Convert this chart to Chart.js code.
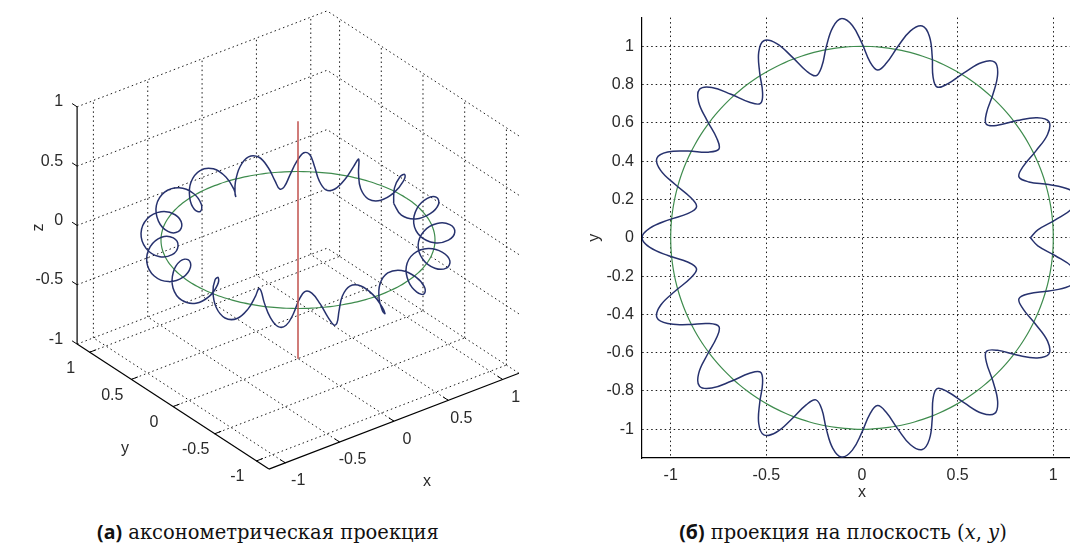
<!DOCTYPE html>
<html>
<head>
<meta charset="utf-8">
<script src="https://cdn.jsdelivr.net/npm/chart.js@4.4.0/dist/chart.umd.min.js"></script>
<style>
  html, body { margin: 0; padding: 0; background: #fff; overflow: hidden; }
  #wrap { position: relative; width: 1070px; height: 546px; overflow: hidden; }
  #axo { position: absolute; left: 0; top: 0; }
  #plane { position: absolute; left: 580px; top: 0; }
  .cap { position: absolute; top: 521px; transform: translateX(-50%); white-space: nowrap;
         font-family: 'DejaVu Serif', 'Liberation Serif', serif; font-size: 19.5px; line-height: 22px; color: #111; }
  .cap b { font-family: 'Open Sans', 'Noto Sans', sans-serif; font-weight: 700; }
</style>
</head>
<body>
<div id="wrap">
  <canvas id="axo" width="560" height="505"></canvas>
  <canvas id="plane" width="520" height="510"></canvas>
  <div class="cap" style="left:268px"><b>(а)</b> аксонометрическая проекция</div>
  <div class="cap" style="left:843px"><b>(б)</b> проекция на плоскость (<i>x</i>, <i>y</i>)</div>
</div>
<script>
// ---------- данные ----------
// угол вдоль кольца (град), через 1/8 витка
const ringAngle = [
  0, 2.6, 5.3, 7.9, 10.6, 13.2, 15.9, 18.5, 21.2, 23.8, 26.5, 29.1, 31.8, 34.4, 37.1, 39.7, 42.4,
  45, 47.6, 50.3, 52.9, 55.6, 58.2, 60.9, 63.5, 66.2, 68.8, 71.5, 74.1, 76.8, 79.4, 82.1, 84.7, 87.4,
  90, 92.6, 95.3, 97.9, 100.6, 103.2, 105.9, 108.5, 111.2, 113.8, 116.5, 119.1, 121.8, 124.4, 127.1, 129.7, 132.4,
  135, 137.6, 140.3, 142.9, 145.6, 148.2, 150.9, 153.5, 156.2, 158.8, 161.5, 164.1, 166.8, 169.4, 172.1, 174.7, 177.4,
  180, 182.6, 185.3, 187.9, 190.6, 193.2, 195.9, 198.5, 201.2, 203.8, 206.5, 209.1, 211.8, 214.4, 217.1, 219.7, 222.4,
  225, 227.6, 230.3, 232.9, 235.6, 238.2, 240.9, 243.5, 246.2, 248.8, 251.5, 254.1, 256.8, 259.4, 262.1, 264.7, 267.4,
  270, 272.6, 275.3, 277.9, 280.6, 283.2, 285.9, 288.5, 291.2, 293.8, 296.5, 299.1, 301.8, 304.4, 307.1, 309.7, 312.4,
  315, 317.6, 320.3, 322.9, 325.6, 328.2, 330.9, 333.5, 336.2, 338.8, 341.5, 344.1, 346.8, 349.4, 352.1, 354.7, 357.4,
  360
];
// расстояние синей кривой от оси z
const helixRadius = [
  0.88, 0.92, 1.015, 1.11, 1.15, 1.11, 1.015, 0.92,
  0.88, 0.92, 1.015, 1.11, 1.15, 1.11, 1.015, 0.92,
  0.88, 0.92, 1.015, 1.11, 1.15, 1.11, 1.015, 0.92,
  0.88, 0.92, 1.015, 1.11, 1.15, 1.11, 1.015, 0.92,
  0.88, 0.92, 1.015, 1.11, 1.15, 1.11, 1.015, 0.92,
  0.88, 0.92, 1.015, 1.11, 1.15, 1.11, 1.015, 0.92,
  0.88, 0.92, 1.015, 1.11, 1.15, 1.11, 1.015, 0.92,
  0.88, 0.92, 1.015, 1.11, 1.15, 1.11, 1.015, 0.92,
  0.88, 0.92, 1.015, 1.11, 1.15, 1.11, 1.015, 0.92,
  0.88, 0.92, 1.015, 1.11, 1.15, 1.11, 1.015, 0.92,
  0.88, 0.92, 1.015, 1.11, 1.15, 1.11, 1.015, 0.92,
  0.88, 0.92, 1.015, 1.11, 1.15, 1.11, 1.015, 0.92,
  0.88, 0.92, 1.015, 1.11, 1.15, 1.11, 1.015, 0.92,
  0.88, 0.92, 1.015, 1.11, 1.15, 1.11, 1.015, 0.92,
  0.88, 0.92, 1.015, 1.11, 1.15, 1.11, 1.015, 0.92,
  0.88, 0.92, 1.015, 1.11, 1.15, 1.11, 1.015, 0.92,
  0.88, 0.92, 1.015, 1.11, 1.15, 1.11, 1.015, 0.92,
  0.88
];
// высота z синей кривой
const helixHeight = [
  0, 0.095, 0.135, 0.095, 0, -0.095, -0.135, -0.095,
  0, 0.095, 0.135, 0.095, 0, -0.095, -0.135, -0.095,
  0, 0.095, 0.135, 0.095, 0, -0.095, -0.135, -0.095,
  0, 0.095, 0.135, 0.095, 0, -0.095, -0.135, -0.095,
  0, 0.095, 0.135, 0.095, 0, -0.095, -0.135, -0.095,
  0, 0.095, 0.135, 0.095, 0, -0.095, -0.135, -0.095,
  0, 0.095, 0.135, 0.095, 0, -0.095, -0.135, -0.095,
  0, 0.095, 0.135, 0.095, 0, -0.095, -0.135, -0.095,
  0, 0.095, 0.135, 0.095, 0, -0.095, -0.135, -0.095,
  0, 0.095, 0.135, 0.095, 0, -0.095, -0.135, -0.095,
  0, 0.095, 0.135, 0.095, 0, -0.095, -0.135, -0.095,
  0, 0.095, 0.135, 0.095, 0, -0.095, -0.135, -0.095,
  0, 0.095, 0.135, 0.095, 0, -0.095, -0.135, -0.095,
  0, 0.095, 0.135, 0.095, 0, -0.095, -0.135, -0.095,
  0, 0.095, 0.135, 0.095, 0, -0.095, -0.135, -0.095,
  0, 0.095, 0.135, 0.095, 0, -0.095, -0.135, -0.095,
  0, 0.095, 0.135, 0.095, 0, -0.095, -0.135, -0.095,
  0
];
const circleRadius = 1;          // зелёная окружность
const stemZ = [-1, 1];           // красный отрезок по оси z
const axisTicks = [-1, -0.5, 0, 0.5, 1];
const zTicks = [-1, -0.5, 0, 0.5, 1];
const planeYTicks = [-1, -0.8, -0.6, -0.4, -0.2, 0, 0.2, 0.4, 0.6, 0.8, 1];
const LIM = 1.15;

// ---------- оформление ----------
const BLUE = '#27326e', GREEN = '#3f8c4e', RED = '#c0504d', GRID = '#1a1a1a', TXT = '#2a2a2a';
const FONT = { family: "'Liberation Sans', Arial, sans-serif", size: 16 };
const DOTS = [1.5, 3];
const DEG = Math.PI / 180;
const AZ = -37.5 * DEG, EL = 30 * DEG;   // вид matlab по умолчанию
const PX = 137, CX = 298, CY = 240;      // масштаб и центр аксонометрии на холсте

function project(p) {
  const [x, y, z] = p;
  const u = x * Math.cos(AZ) + y * Math.sin(AZ);
  const w = -x * Math.sin(AZ) + y * Math.cos(AZ);
  return { x: u, y: z * Math.cos(EL) + w * Math.sin(EL) };
}

const helix3d = ringAngle.map((a, i) => [helixRadius[i] * Math.cos(a * DEG), helixRadius[i] * Math.sin(a * DEG), helixHeight[i]]);
const circle3d = ringAngle.map((a) => [circleRadius * Math.cos(a * DEG), circleRadius * Math.sin(a * DEG), 0]);

function line3d(points, color, width, order, extra) {
  return Object.assign({
    data: points.map(project), showLine: true, borderColor: color, borderWidth: width,
    pointRadius: 0, tension: 0, fill: false, order
  }, extra || {});
}

// ---------- левый рисунок: аксонометрия ----------
const Z0 = zTicks[0], Z1 = zTicks[zTicks.length - 1];
const axoSets = [];
axoSets.push(line3d([[0, 0, stemZ[0]], [0, 0, stemZ[1]]], RED, 1.5, 0));
axoSets.push(line3d(helix3d, BLUE, 1.5, 1, { tension: 0.4 }));
axoSets.push(line3d(circle3d, GREEN, 1.2, 2, { tension: 0.4 }));
// оси
axoSets.push(line3d([[-LIM, LIM, Z0], [-LIM, LIM, Z1]], '#000', 1.2, 3));
axoSets.push(line3d([[-LIM, LIM, Z0], [-LIM, -LIM, Z0]], '#000', 1.2, 3));
axoSets.push(line3d([[-LIM, -LIM, Z0], [LIM, -LIM, Z0]], '#000', 1.2, 3));
// засечки
axisTicks.forEach((t) => {
  axoSets.push(line3d([[t, -LIM, Z0], [t, -LIM + 0.06, Z0]], '#000', 1, 3));
  axoSets.push(line3d([[-LIM, t, Z0], [-LIM + 0.06, t, Z0]], '#000', 1, 3));
});
zTicks.forEach((t) => axoSets.push(line3d([[-LIM, LIM, t], [-LIM, LIM + 0.06, t]], '#000', 1, 3)));
// пунктирная сетка: пол и две задние стенки
const dots = { borderDash: DOTS };
axisTicks.forEach((t) => {
  axoSets.push(line3d([[t, -LIM, Z0], [t, LIM, Z0]], GRID, 1, 4, dots));
  axoSets.push(line3d([[-LIM, t, Z0], [LIM, t, Z0]], GRID, 1, 4, dots));
  axoSets.push(line3d([[t, LIM, Z0], [t, LIM, Z1]], GRID, 1, 4, dots));
  axoSets.push(line3d([[LIM, t, Z0], [LIM, t, Z1]], GRID, 1, 4, dots));
});
zTicks.forEach((t) => {
  axoSets.push(line3d([[-LIM, LIM, t], [LIM, LIM, t]], GRID, 1, 4, dots));
  axoSets.push(line3d([[LIM, -LIM, t], [LIM, LIM, t]], GRID, 1, 4, dots));
});

const axoLabels = {
  id: 'axoLabels',
  afterDatasetsDraw(chart) {
    const { ctx, scales: { x, y } } = chart;
    const at = (p) => { const q = project(p); return [x.getPixelForValue(q.x), y.getPixelForValue(q.y)]; };
    ctx.save();
    ctx.font = `${FONT.size}px ${FONT.family}`;
    ctx.fillStyle = TXT;
    ctx.textBaseline = 'middle';
    ctx.textAlign = 'right';
    zTicks.forEach((t) => { const [a, b] = at([-LIM, LIM, t]); ctx.fillText(String(t), a - 14, b - 5); });
    ctx.textAlign = 'center';
    axisTicks.forEach((t) => { const [a, b] = at([-LIM, t, Z0]); ctx.fillText(String(t), a - 19, b + 16); });
    axisTicks.forEach((t) => { const [a, b] = at([t, -LIM, Z0]); ctx.fillText(String(t), a + 13, b + 18); });
    let [a, b] = at([0, -LIM, Z0]);
    ctx.fillText('x', a + 33, b + 60);
    [a, b] = at([-LIM, 0, Z0]);
    ctx.fillText('y', a - 48, b + 42);
    [a, b] = at([-LIM, LIM, 0]);
    ctx.translate(a - 39, b + 2);
    ctx.rotate(-Math.PI / 2);
    ctx.fillText('z', 0, 0);
    ctx.restore();
  }
};

const axoCanvas = document.getElementById('axo');
new Chart(axoCanvas, {
  type: 'scatter',
  data: { datasets: axoSets },
  options: {
    responsive: false, animation: false, events: [],
    layout: { padding: 0 },
    plugins: { legend: { display: false }, tooltip: { enabled: false } },
    scales: {
      x: { type: 'linear', display: false, min: -CX / PX, max: (axoCanvas.width - CX) / PX },
      y: { type: 'linear', display: false, min: (CY - axoCanvas.height) / PX, max: CY / PX }
    }
  },
  plugins: [axoLabels]
});

// ---------- правый рисунок: проекция на (x, y) ----------
const toXY = (p) => ({ x: p[0], y: p[1] });
const tickOpts = { autoSkip: false, maxRotation: 0, padding: 8, color: TXT, font: FONT, callback: (v) => String(v) };

new Chart(document.getElementById('plane'), {
  type: 'scatter',
  data: {
    datasets: [
      { data: helix3d.map(toXY), showLine: true, borderColor: BLUE, borderWidth: 1.5, pointRadius: 0, tension: 0.4, order: 0 },
      { data: circle3d.map(toXY), showLine: true, borderColor: GREEN, borderWidth: 1.2, pointRadius: 0, tension: 0.4, order: 1 }
    ]
  },
  options: {
    responsive: false, animation: false, events: [],
    layout: { padding: { top: 17, right: 18, bottom: 0, left: 0 } },
    plugins: { legend: { display: false }, tooltip: { enabled: false } },
    scales: {
      x: {
        type: 'linear', min: -LIM, max: LIM,
        afterBuildTicks: (s) => { s.ticks = axisTicks.map((v) => ({ value: v })); },
        afterFit: (s) => { s.height = 52; },
        ticks: tickOpts,
        grid: { color: GRID, lineWidth: 1, drawTicks: false },
        border: { display: true, color: '#000', width: 1.2, dash: DOTS },
        title: { display: true, text: 'x', color: TXT, font: FONT, padding: { top: 0, bottom: 8 } }
      },
      y: {
        type: 'linear', min: -LIM, max: LIM,
        afterBuildTicks: (s) => { s.ticks = planeYTicks.map((v) => ({ value: v })); },
        afterFit: (s) => { s.width = 62; },
        ticks: tickOpts,
        grid: { color: GRID, lineWidth: 1, drawTicks: false },
        border: { display: true, color: '#000', width: 1.2, dash: DOTS },
        title: { display: true, text: 'y', color: TXT, font: FONT, padding: { top: 5, bottom: 0 } }
      }
    }
  }
});
</script>
</body>
</html>
